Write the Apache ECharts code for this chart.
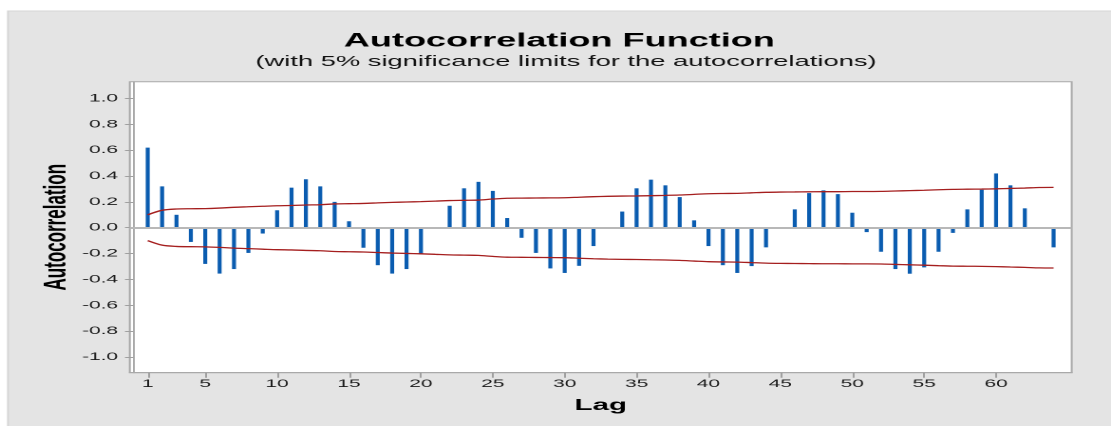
<!DOCTYPE html>
<html>
<head>
<meta charset="utf-8">
<script src="https://cdn.jsdelivr.net/npm/echarts@6/dist/echarts.min.js"></script>
<style>
html,body{margin:0;padding:0;background:#fff;}
#wrap{width:1111px;height:426px;overflow:hidden;position:relative;background:#fff;}
#c{width:585px;height:426px;transform:scaleX(1.89915);transform-origin:0 0;}
</style>
</head>
<body>
<div id="wrap"><div id="c"></div></div>
<script>
// ---- data ----
const lags = [1,2,3,4,5,6,7,8,9,10,11,12,13,14,15,16,17,18,19,20,21,22,23,24,25,26,27,28,29,30,31,32,
              33,34,35,36,37,38,39,40,41,42,43,44,45,46,47,48,49,50,51,52,53,54,55,56,57,58,59,60,61,62,63,64];
const acf = [0.62,0.32,0.10,-0.11,-0.28,-0.355,-0.32,-0.195,-0.045,0.135,0.31,0.375,0.32,0.20,0.05,-0.155,
             -0.29,-0.355,-0.32,-0.205,0.00,0.17,0.305,0.355,0.285,0.075,-0.078,-0.195,-0.315,-0.35,-0.295,-0.142,
             0.00,0.125,0.305,0.372,0.328,0.237,0.057,-0.142,-0.29,-0.35,-0.297,-0.152,0.00,0.142,0.268,0.289,
             0.26,0.116,-0.034,-0.186,-0.32,-0.356,-0.307,-0.186,-0.04,0.142,0.294,0.42,0.328,0.15,-0.008,-0.152];
const upperLimit = [0.10,0.135,0.145,0.147,0.148,0.152,0.158,0.162,0.166,0.170,0.172,0.176,0.178,0.184,0.186,0.188,
                    0.192,0.196,0.199,0.202,0.206,0.210,0.212,0.214,0.222,0.228,0.229,0.230,0.231,0.232,0.236,0.240,
                    0.243,0.245,0.246,0.248,0.250,0.253,0.258,0.263,0.265,0.266,0.270,0.274,0.276,0.277,0.278,0.279,
                    0.279,0.280,0.280,0.281,0.284,0.287,0.290,0.294,0.297,0.298,0.299,0.301,0.304,0.307,0.311,0.312];
const lowerLimit = [-0.10,-0.135,-0.145,-0.147,-0.148,-0.152,-0.158,-0.162,-0.166,-0.170,-0.172,-0.176,-0.178,-0.184,-0.186,-0.188,
                    -0.192,-0.196,-0.199,-0.202,-0.206,-0.210,-0.212,-0.214,-0.222,-0.228,-0.229,-0.230,-0.231,-0.232,-0.236,-0.240,
                    -0.243,-0.245,-0.246,-0.248,-0.250,-0.253,-0.258,-0.263,-0.265,-0.266,-0.270,-0.274,-0.276,-0.277,-0.278,-0.279,
                    -0.279,-0.280,-0.280,-0.281,-0.284,-0.287,-0.290,-0.294,-0.297,-0.298,-0.299,-0.301,-0.304,-0.307,-0.311,-0.312];
const xTicks = [1,5,10,15,20,25,30,35,40,45,50,55,60];
const yTicks = [-1.0,-0.8,-0.6,-0.4,-0.2,0.0,0.2,0.4,0.6,0.8,1.0];

const titleText = 'Autocorrelation Function';
const subTitleText = '(with 5% significance limits for the autocorrelations)';
const xName = 'Lag';
const yName = 'Autocorrelation';

const pair = (arr) => lags.map((l, i) => [l, arr[i]]);
const FONT = "'Liberation Sans', Arial, sans-serif";

const chart = echarts.init(document.getElementById('c'), null, {renderer: 'canvas', devicePixelRatio: 2});
chart.setOption({
  backgroundColor: '#ffffff',
  animation: false,
  graphic: [{
    type: 'rect', z: -10, silent: true,
    shape: {x: 4.2, y: 11, width: 600, height: 420},
    style: {fill: '#e4e4e4', stroke: '#d6d6d6', lineWidth: 1}
  }],
  title: [
    {text: titleText, left: 294.5, top: 32, padding: 0, textAlign: 'center',
     textStyle: {fontFamily: FONT, fontWeight: 'bold', fontSize: 19, color: '#000'}},
    {text: subTitleText, left: 298, top: 55, padding: 0, textAlign: 'center',
     textStyle: {fontFamily: FONT, fontWeight: 'normal', fontSize: 14.4, color: '#111'}}
  ],
  grid: {left: 68.35, right: 20.7, top: 81.7, bottom: 53.3, show: true,
         backgroundColor: '#ffffff', borderColor: '#a9a9a9', borderWidth: 1, containLabel: false},
  xAxis: {
    type: 'value', min: -0.245, max: 65.26,
    name: xName, nameLocation: 'middle', nameGap: 25, nameMoveOverlap: false,
    nameTextStyle: {fontFamily: FONT, fontWeight: 'bold', fontSize: 15.5, color: '#000'},
    axisLine: {show: true, onZero: false, lineStyle: {color: '#a9a9a9', width: 1}},
    axisTick: {show: true, length: 5, customValues: xTicks, lineStyle: {color: '#a0a0a0', width: 1}},
    axisLabel: {show: true, customValues: xTicks, margin: 6, fontFamily: FONT, fontSize: 11, color: '#1a1a1a'},
    splitLine: {show: false}
  },
  yAxis: {
    type: 'value', min: -1.122, max: 1.130,
    name: yName, nameLocation: 'middle', nameGap: 30, nameMoveOverlap: false,
    nameTextStyle: {fontFamily: FONT, fontWeight: 'bold', fontSize: 17, color: '#000'},
    axisLine: {show: true, lineStyle: {color: '#a9a9a9', width: 1}},
    axisTick: {show: true, length: 4.4, customValues: yTicks, lineStyle: {color: '#a0a0a0', width: 1}},
    axisLabel: {show: true, customValues: yTicks, margin: 6.2, fontFamily: FONT, fontSize: 11, color: '#1a1a1a',
                formatter: (v) => Number(v).toFixed(1)},
    splitLine: {show: false}
  },
  series: [
    {
      type: 'bar', name: 'ACF', data: pair(acf), barWidth: 2.1,
      itemStyle: {color: '#0a5cb0'},
      markLine: {silent: true, symbol: 'none', label: {show: false}, animation: false,
                 data: [{yAxis: 0}], lineStyle: {color: '#b8b8b8', width: 2, type: 'solid'}},
      z: 3
    },
    {type: 'line', name: 'Upper limit', data: pair(upperLimit), showSymbol: false, symbol: 'none', smooth: 0.3,
     lineStyle: {color: '#a51e1e', width: 1.3}, z: 4},
    {type: 'line', name: 'Lower limit', data: pair(lowerLimit), showSymbol: false, symbol: 'none', smooth: 0.3,
     lineStyle: {color: '#a51e1e', width: 1.3}, z: 4}
  ]
});
</script>
</body>
</html>
